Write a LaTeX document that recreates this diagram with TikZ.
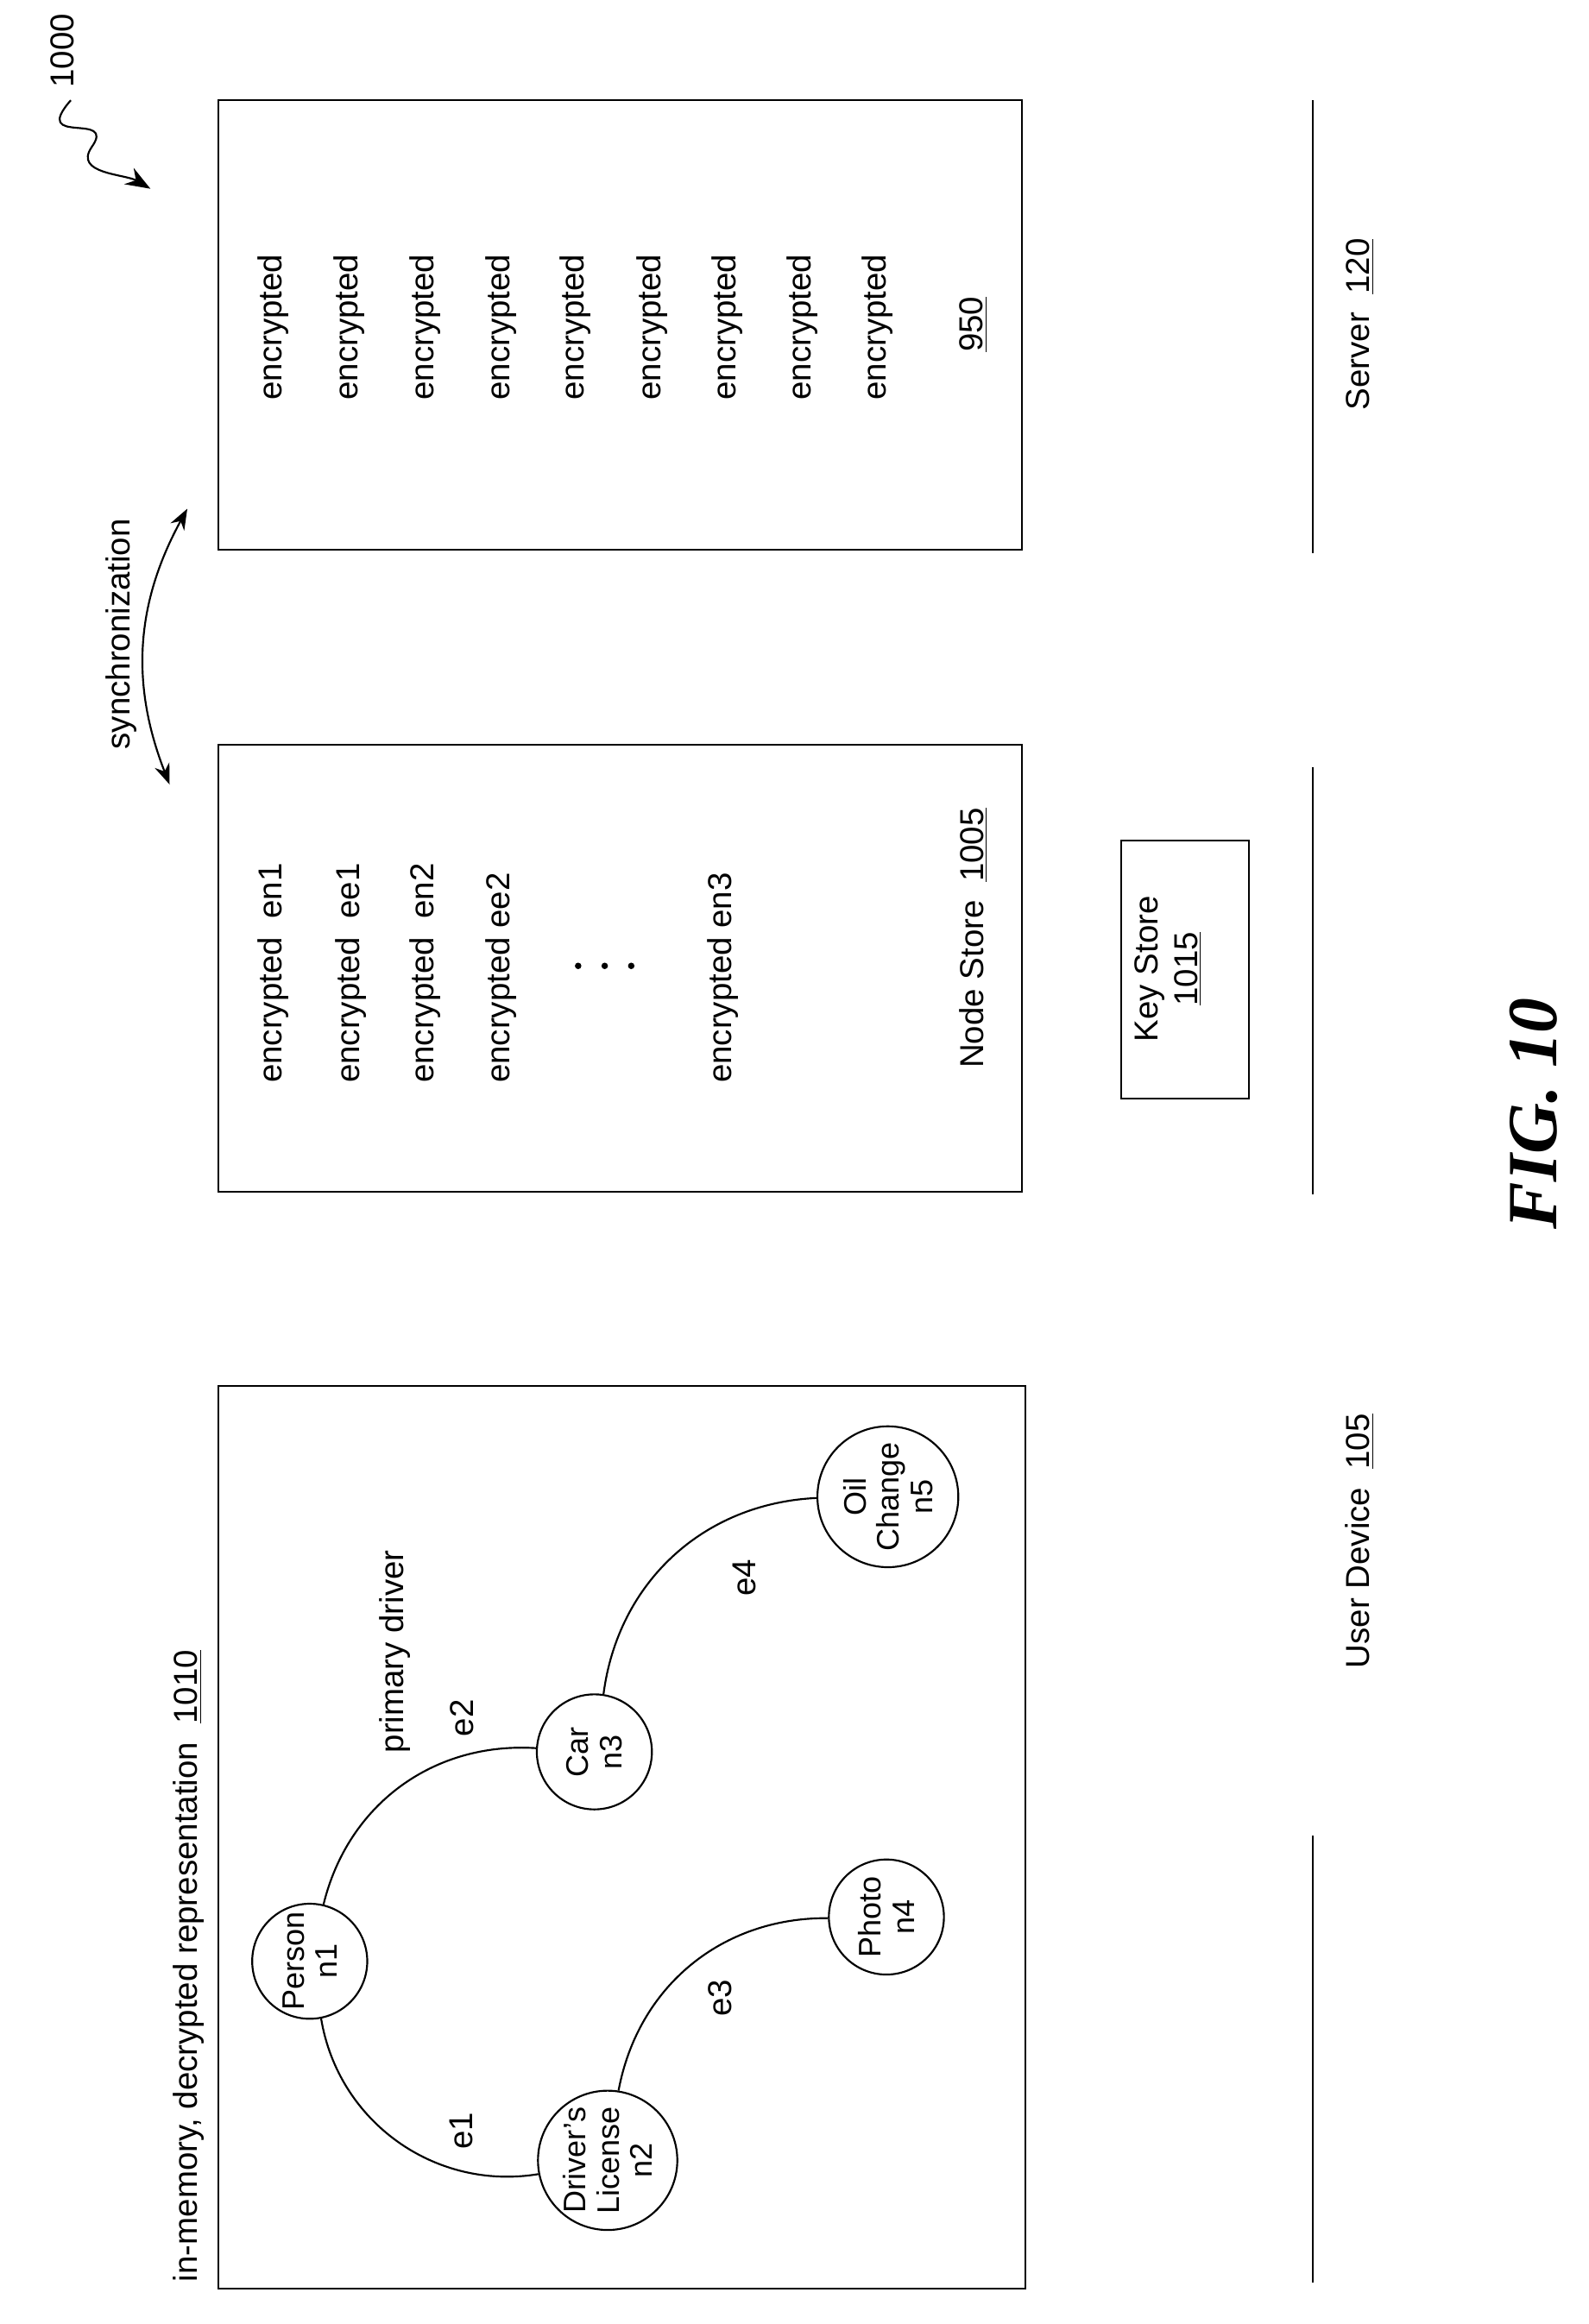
\documentclass[tikz,border=0pt]{standalone}
\usepackage{fontspec}
\setmainfont{Liberation Sans}
\newfontfamily\figfont{Liberation Serif}
\usetikzlibrary{arrows.meta,positioning}
\begin{document}
\begin{tikzpicture}[x=0.025cm,y=-0.025cm,line width=0.9pt,
  every node/.style={font=\fontsize{16}{19}\selectfont},
  rtext/.style={rotate=90,inner sep=0pt},
  gnode/.style={circle,draw,minimum size=1.95cm,inner sep=0pt,align=center,rotate=90,
    font=\fontsize{15}{16}\selectfont}]
\useasboundingbox (0,0) rectangle (1077,1576);
% boxes
\draw (148,940) rectangle (695,1552);
\draw (148,505) rectangle (693,808);
\draw (148,68) rectangle (693,373);
\draw (760,570) rectangle (847,745);
% graph
\node[rtext,anchor=west] at (128,1548) {in-memory, decrypted representation\ \ \underline{1010}};
\node[gnode] (n1) at (210,1330) {Person\\n1};
\node[gnode] (n2) at (412,1465) {Driver's\\License\\n2};
\node[gnode] (n3) at (403,1188) {Car\\n3};
\node[gnode] (n4) at (601,1300) {Photo\\n4};
\node[gnode] (n5) at (602,1015) {Oil\\Change\\n5};
\draw (n1) to[bend right=45] (n2);
\draw (n1) to[bend left=40] (n3);
\draw (n2) to[bend left=40] (n4);
\draw (n3) to[bend left=40] (n5);
\node[rtext] (e1) at (313,1445) {e1};
\node[rtext] (e2) at (313,1165) {e2};
\node[rtext] (pd) at (268,1120) {primary driver};
\node[rtext] (e3) at (488,1355) {e3};
\node[rtext] (e4) at (505,1070) {e4};
% node store
\foreach \x/\t in {185/encrypted\ \ en1,238/encrypted\ \ ee1,288/encrypted\ \ en2,340/encrypted ee2,490/encrypted en3}
  \node[rtext,anchor=west] at (\x,735) {\t};
\foreach \x in {392,410,428} \fill (\x,655) circle (2.2);
\node[rtext,anchor=west] (ns) at (660,725) {Node Store\ \ \underline{1005}};
\node[rtext,align=center] (ks) at (792,657) {Key Store\\\underline{1015}};
% server
\foreach \x in {185,237,288,340,390,442,493,544,595}
  \node[rtext,anchor=west] at (\x,272) {encrypted};
\node[rtext] (srv) at (660,220) {\underline{950}};
% synchronization
\coordinate (s1) at (115,532);
\coordinate (s2) at (127,345);
\draw[{Stealth[length=10pt]}-{Stealth[length=10pt]}] (s1) to[bend left=25] (s2);
\node[rtext] (sync) at (82,430) {synchronization};
% separators
\draw (890,1245) -- (890,1548);
\draw (890,520) -- (890,810);
\draw (890,68) -- (890,375);
\node[rtext] (ud) at (922,1045) {User Device\ \ \underline{105}};
\node[rtext] (sv) at (922,220) {Server\ \ \underline{120}};
\node[rtext,font=\figfont\bfseries\itshape\fontsize{34}{40}\selectfont] (fig) at (1040,755) {FIG. 10};
% reference numeral
\node[rtext,anchor=west] (ref) at (42,60) {1000};
\coordinate (q1) at (48,68);
\coordinate (q2) at (102,128);
\draw[-{Stealth[length=12pt]}] (q1) .. controls (20,100) and (80,75) .. (62,100) .. controls (50,118) and (85,118) .. (q2);
\end{tikzpicture}
\end{document}
